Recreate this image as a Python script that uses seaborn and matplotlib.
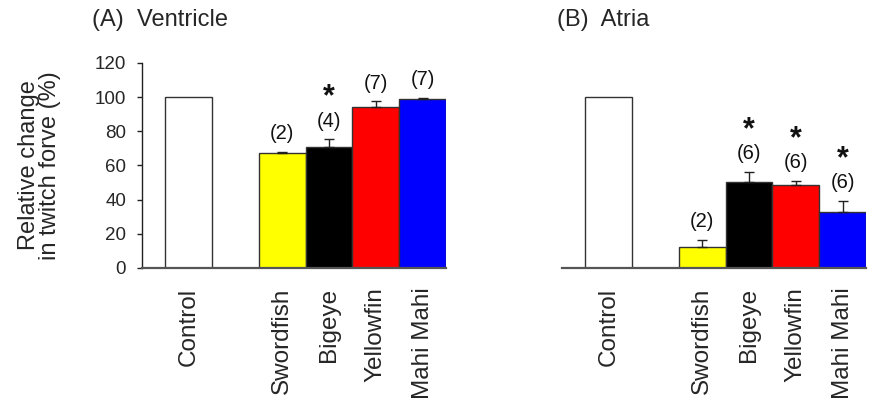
import matplotlib
matplotlib.use("Agg")
import matplotlib.pyplot as plt
import seaborn as sns
import pandas as pd

# Slots on the category axis; the empty one separates Control from the fish
slots = ["Control", "", "Swordfish", "Bigeye", "Yellowfin", "Mahi Mahi"]
groups = ["Control", "Swordfish", "Bigeye", "Yellowfin", "Mahi Mahi"]
bar_colors = ["#ffffff", "#ffff00", "#000000", "#ff0000", "#0000ff"]

ventricle_mean = [100, 67.1, 70.6, 94.4, 98.8]
ventricle_sem = [0, 0.8, 4.7, 3.2, 0.9]
ventricle_n = [None, 2, 4, 7, 7]
ventricle_sig = [False, False, True, False, False]

atria_mean = [100, 12.3, 50.5, 48.6, 33.0]
atria_sem = [0, 4.1, 5.9, 2.5, 6.2]
atria_n = [None, 2, 6, 6, 6]
atria_sig = [False, False, True, True, True]

y_ticks = [0, 20, 40, 60, 80, 100, 120]

sns.set_theme(style="ticks")
plt.rcParams["font.family"] = ["Liberation Sans", "DejaVu Sans"]

fig = plt.figure(figsize=(8.78, 4.05), dpi=100)
W, H = 878, 405
ax_a = fig.add_axes([142 / W, 137 / H, 304 / W, 205 / H])
ax_b = fig.add_axes([562 / W, 137 / H, 304 / W, 205 / H])

palette = dict(zip(groups, bar_colors))


def draw_panel(ax, means, sems, ns, sig):
    df = pd.DataFrame({"group": groups, "value": means})
    sns.barplot(data=df, x="group", y="value", hue="group", order=slots,
                hue_order=groups, palette=palette, saturation=1.0,
                width=1.0, dodge=False, legend=False, errorbar=None,
                edgecolor="#333333", linewidth=1.0, ax=ax, zorder=2)
    pos = [slots.index(g) for g in groups]
    has_err = [i for i, s in enumerate(sems) if s > 0]
    ax.errorbar([pos[i] for i in has_err], [means[i] for i in has_err],
                yerr=[[0] * len(has_err), [sems[i] for i in has_err]],
                fmt="none", ecolor="#222222", elinewidth=1.0, capsize=3.5,
                capthick=1.0, zorder=3)
    for i in range(len(groups)):
        if ns[i] is None:
            continue
        top = means[i] + sems[i]
        ax.annotate(f"({ns[i]})", (pos[i], top), xytext=(0, 13),
                    textcoords="offset points", ha="center", va="center",
                    fontsize=14.5, color="#111111")
        if sig[i]:
            ax.annotate("*", (pos[i], top), xytext=(0, 30),
                        textcoords="offset points", ha="center",
                        va="center", fontsize=22, fontweight="bold",
                        color="#111111")
    ax.set_xlim(-1, 5.5)
    ax.set_ylim(0, 120)
    ax.set_xticks(pos)
    ax.set_xticklabels(groups, rotation=90, fontsize=17.5)
    ax.tick_params(axis="x", length=0, pad=14)
    ax.set_xlabel("")
    ax.set_ylabel("")
    for s in ["top", "right"]:
        ax.spines[s].set_visible(False)
    ax.spines["bottom"].set_color("#555555")
    ax.spines["bottom"].set_linewidth(1.6)
    ax.set_facecolor("none")


draw_panel(ax_a, ventricle_mean, ventricle_sem, ventricle_n, ventricle_sig)
draw_panel(ax_b, atria_mean, atria_sem, atria_n, atria_sig)

ax_a.set_yticks(y_ticks)
ax_a.tick_params(axis="y", length=3.5, width=1.0, pad=8, labelsize=13.5,
                 direction="out", color="#222222")
ax_a.spines["left"].set_color("#222222")
ax_a.spines["left"].set_linewidth(1.0)
ax_a.set_ylabel("Relative change\nin twitch forve (%)", fontsize=17,
                linespacing=0.95, labelpad=24)

ax_b.spines["left"].set_visible(False)
ax_b.set_yticks([])

fig.text(92 / W, 1 - 20 / H, "(A)  Ventricle", fontsize=17, va="center",
         ha="left")
fig.text(557 / W, 1 - 20 / H, "(B)  Atria", fontsize=17, va="center",
         ha="left")

fig.savefig("out.png", dpi=100, facecolor="white")
